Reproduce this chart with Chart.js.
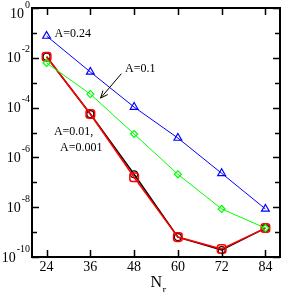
<!DOCTYPE html>
<html>
<head>
<meta charset="utf-8">
<script src="https://cdn.jsdelivr.net/npm/chart.js@4"></script>
<style>
  body { margin: 0; background: #fff; }
  canvas { display: block; }
</style>
</head>
<body>
<canvas id="chart" width="283" height="292"></canvas>
<script>
// Data
const nr = [24, 36, 48, 60, 72, 84];
const xTicks = [24, 36, 48, 60, 72, 84];
const yExponents = [0, -2, -4, -6, -8, -10];

const a024 = [7.5e-2, 2.7e-3, 1.05e-4, 6.0e-6, 2.3e-7, 8.5e-9];
const a01 = [6.2e-3, 3.5e-4, 8.7e-6, 2.1e-7, 8.5e-9, 1.45e-9];
const a001 = [1.1e-2, 5.5e-5, 1.6e-7, 6.3e-10, 2.1e-10, 1.45e-9];
const a0001 = [1.1e-2, 5.5e-5, 2.1e-7, 6.3e-10, 1.9e-10, 1.45e-9];

// annotations, in data units: [x, y, text]
const notes = [
    [26.2, 9.0e-2, 'A=0.24'],
    [45.5, 3.6e-3, 'A=0.1'],
    [26.0, 1.1e-5, 'A=0.01,'],
    [27.7, 2.5e-6, 'A=0.001']
];
const arrowFrom = [44.5, 2.3e-3];
const arrowTo = [38.8, 2.4e-4];

const serif = '"Liberation Serif", "DejaVu Serif", serif';

function toPoints(values) {
    return nr.map((x, i) => ({ x: x, y: values[i] }));
}

// Frame, inward ticks, tick labels, titles and notes
const framePlugin = {
    id: 'frame',
    afterDraw(chart) {
        const ctx = chart.ctx;
        const area = chart.chartArea;
        const xs = chart.scales.x;
        const ys = chart.scales.y;
        ctx.save();
        ctx.strokeStyle = '#000';
        ctx.fillStyle = '#000';

        // ticks
        ctx.lineWidth = 1.5;
        ctx.beginPath();
        xTicks.forEach(v => {
            const px = Math.round(xs.getPixelForValue(v)) + 0.5;
            ctx.moveTo(px, area.bottom); ctx.lineTo(px, area.bottom - 7);
            ctx.moveTo(px, area.top); ctx.lineTo(px, area.top + 7);
        });
        for (let e = 0; e >= -10; e--) {
            const py = Math.round(ys.getPixelForValue(Math.pow(10, e))) + 0.5;
            const len = e % 2 === 0 ? 7 : 5;
            ctx.moveTo(area.left, py); ctx.lineTo(area.left + len, py);
            ctx.moveTo(area.right, py); ctx.lineTo(area.right - len, py);
        }
        ctx.stroke();

        // frame
        ctx.lineWidth = 2;
        ctx.strokeRect(area.left, area.top, area.right - area.left, area.bottom - area.top);

        // x tick labels
        ctx.font = '14px ' + serif;
        ctx.textAlign = 'center';
        ctx.textBaseline = 'middle';
        xTicks.forEach(v => {
            ctx.fillText(String(v), xs.getPixelForValue(v), area.bottom + 10);
        });

        // y tick labels: 10 with superscript exponent
        yExponents.forEach(e => {
            let py = ys.getPixelForValue(Math.pow(10, e));
            if (py < 13) py = 13;
            const exp = e === 0 ? '0' : '-' + Math.abs(e);
            ctx.font = '10px ' + serif;
            const ew = ctx.measureText(exp).width;
            ctx.textAlign = 'right';
            ctx.textBaseline = 'middle';
            ctx.fillText(exp, area.left - 2, py - 8);
            ctx.font = '14px ' + serif;
            ctx.fillText('10', area.left - 3 - ew, py + 1);
        });

        // x title N_r
        ctx.textAlign = 'left';
        ctx.font = '16px ' + serif;
        const nx = xs.getPixelForValue(54) + 0.5;
        ctx.fillText('N', nx - 6, area.bottom + 26);
        ctx.font = '11px ' + serif;
        ctx.fillText('r', nx + 6, area.bottom + 33);

        // notes
        ctx.font = '12px ' + serif;
        ctx.textBaseline = 'middle';
        notes.forEach(n => {
            ctx.fillText(n[2], xs.getPixelForValue(n[0]), ys.getPixelForValue(n[1]));
        });

        // arrow
        const x1 = xs.getPixelForValue(arrowFrom[0]), y1 = ys.getPixelForValue(arrowFrom[1]);
        const x2 = xs.getPixelForValue(arrowTo[0]), y2 = ys.getPixelForValue(arrowTo[1]);
        ctx.lineWidth = 1;
        ctx.beginPath();
        ctx.moveTo(x1, y1); ctx.lineTo(x2, y2);
        const ang = Math.atan2(y2 - y1, x2 - x1);
        ctx.moveTo(x2, y2);
        ctx.lineTo(x2 - 8 * Math.cos(ang - 0.4), y2 - 8 * Math.sin(ang - 0.4));
        ctx.moveTo(x2, y2);
        ctx.lineTo(x2 - 8 * Math.cos(ang + 0.4), y2 - 8 * Math.sin(ang + 0.4));
        ctx.stroke();
        ctx.restore();
    }
};

const ctx = document.getElementById('chart').getContext('2d');
new Chart(ctx, {
    type: 'line',
    data: {
        datasets: [
            {
                label: 'A=0.24', data: toPoints(a024),
                borderColor: '#0000ff', borderWidth: 1,
                pointStyle: 'triangle', pointRadius: 4.5,
                pointBorderColor: '#0000ff', pointBackgroundColor: 'rgba(0,0,0,0)', pointBorderWidth: 1.2
            },
            {
                label: 'A=0.1', data: toPoints(a01),
                borderColor: '#00ff00', borderWidth: 1,
                pointStyle: 'rectRot', pointRadius: 3.5,
                pointBorderColor: '#00ff00', pointBackgroundColor: 'rgba(0,0,0,0)', pointBorderWidth: 1.2
            },
            {
                label: 'A=0.01', data: toPoints(a001),
                borderColor: '#ff0000', borderWidth: 1.5,
                pointStyle: 'rectRounded', pointRadius: 5,
                pointBorderColor: '#ff0000', pointBackgroundColor: 'rgba(0,0,0,0)', pointBorderWidth: 1.5
            },
            {
                label: 'A=0.001', data: toPoints(a0001),
                borderColor: '#000000', borderWidth: 1.5,
                pointStyle: 'circle', pointRadius: 3.5,
                pointBorderColor: '#000000', pointBackgroundColor: 'rgba(0,0,0,0)', pointBorderWidth: 1.2
            }
        ]
    },
    options: {
        responsive: false,
        animation: false,
        layout: { autoPadding: false, padding: { left: 32, right: 3, top: 8, bottom: 35 } },
        plugins: { legend: { display: false }, tooltip: { enabled: false } },
        scales: {
            x: { type: 'linear', min: 20, max: 88, display: false },
            y: { type: 'logarithmic', min: 1e-10, max: 1, display: false }
        }
    },
    plugins: [framePlugin]
});
</script>
</body>
</html>
